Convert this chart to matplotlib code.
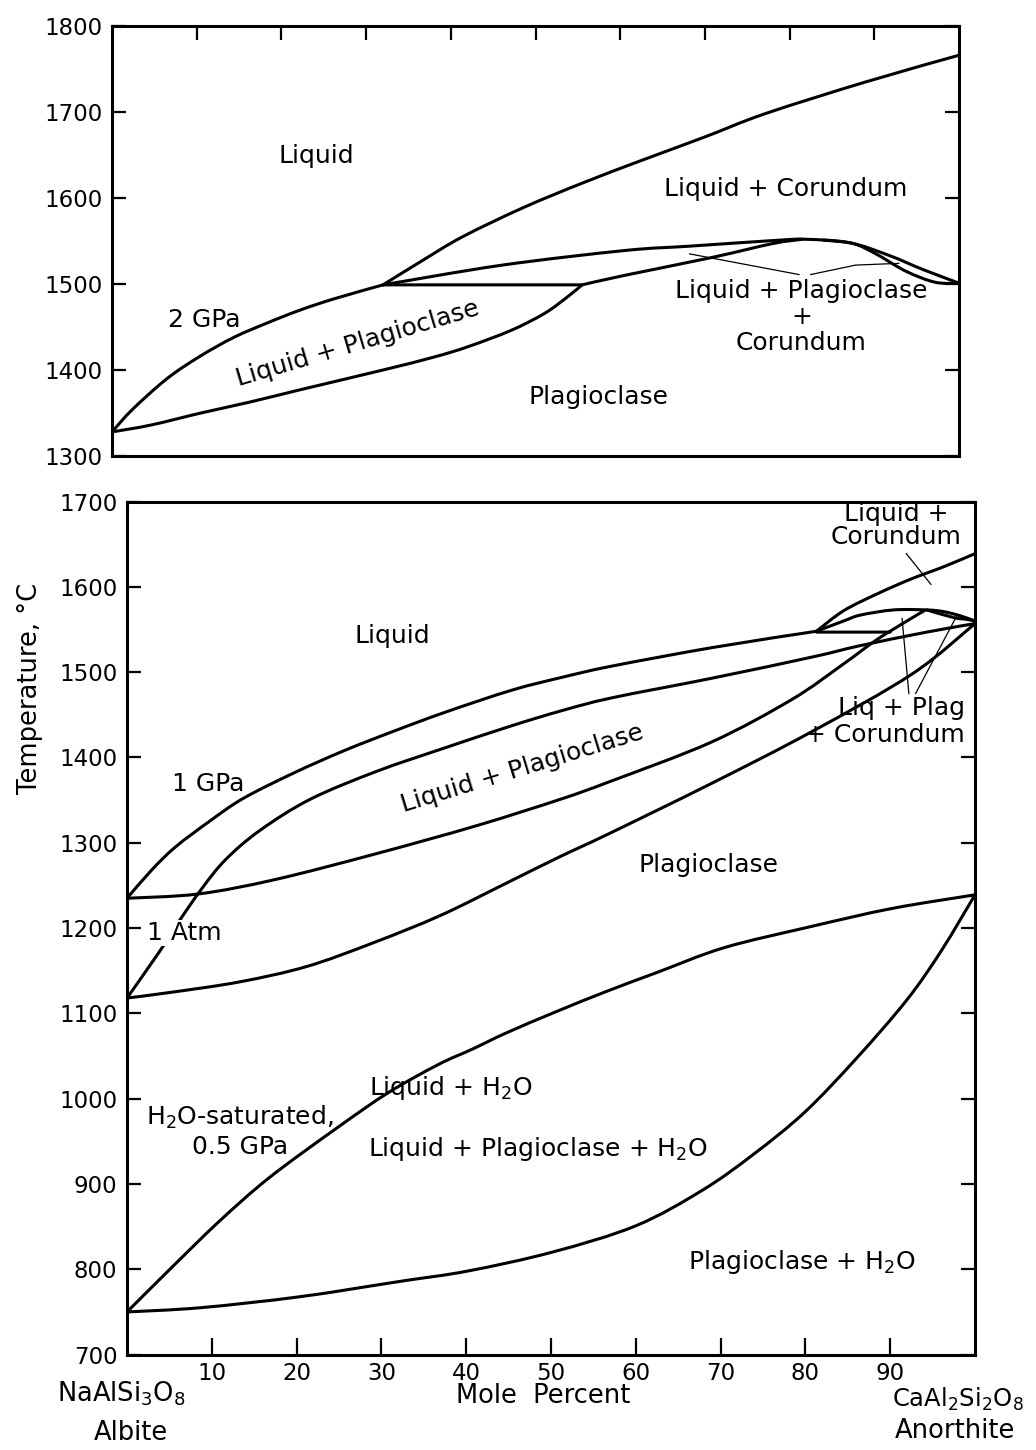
import matplotlib
matplotlib.use("Agg")
import matplotlib.pyplot as plt
from matplotlib.path import Path
from matplotlib.patches import PathPatch

plt.rcParams['font.family'] = ['DejaVu Sans']
plt.rcParams['mathtext.fontset'] = 'dejavusans'

# ---------------- 2 GPa (upper diagram) ----------------
# plagioclase liquidus, albite side up to the peritectic
liq2_x = [0, 2.4, 6.5, 10.4, 14.4, 18.4, 22.3, 26.3, 32.0]
liq2_T = [1328, 1354, 1390, 1416, 1438, 1455, 1470, 1483, 1499]
# plagioclase solidus
sol2_x = [0, 4.6, 10.5, 16.4, 22.2, 32.0, 38.0, 42.0, 47.1, 51.1, 53.9, 55.5]
sol2_T = [1328, 1336, 1350, 1363, 1377, 1400, 1415, 1427, 1446, 1466, 1486, 1499]
# peritectic isotherm
per2_x = [32.0, 55.5]
per2_T = [1499, 1499]
# corundum liquidus
cor2_x = [32.0, 36.6, 41.4, 48.6, 55.7, 62.6, 70.0, 77.1, 89.0, 100]
cor2_T = [1499, 1527, 1555, 1589, 1618, 1644, 1671, 1698, 1735, 1766]
# plagioclase liquidus beyond the peritectic
plq2_x = [32.0, 46.1, 60.6, 68.2, 78.8, 81.9, 87.1, 91.8, 95.7, 100]
plq2_T = [1499, 1522, 1539, 1544, 1551, 1552, 1548, 1533, 1517, 1501]
# lower boundary of the Liq + Plag + Cor field
pls2_x = [55.5, 60.5, 70.9, 78.0, 81.5]
pls2_T = [1499, 1510, 1531, 1547, 1552]
# small lens near anorthite
lens2_x = [84.0, 87.5, 90.2, 93.7, 97.2, 100]
lens2_T = [1551, 1547, 1535, 1515, 1502, 1501]
# label pointers
lead2a_x = [68.2, 81.1]
lead2a_T = [1535, 1511]
lead2b_x = [82.5, 87.8, 92.9]
lead2b_T = [1511, 1522, 1524]

# ---------------- 1 GPa, 1 atm, H2O-saturated 0.5 GPa (lower diagram) ----------------
liq1_x = [0, 2.9, 5.7, 9.7, 13.7, 19.7, 25.6, 31.5, 37.5, 45.4, 51.3, 57.1, 69.1, 81.3]
liq1_T = [1235, 1268, 1295, 1325, 1352, 1382, 1408, 1431, 1453, 1479, 1494, 1507, 1529, 1548]
pl1_x = [81.3, 84.5, 86.5, 90.4, 94.3, 96.3, 98.3, 100]
pl1_T = [1548, 1560, 1567, 1573, 1573, 1571, 1566, 1560]
cor1_x = [81.3, 84.5, 88.5, 92.4, 96.4, 100]
cor1_T = [1548, 1572, 1592, 1609, 1624, 1639]
per1_x = [81.3, 90.0]
per1_T = [1547, 1547]
sol1_x = [0, 8.4, 17.5, 29.3, 41.2, 51.1, 57.0, 68.9, 78.4, 84.4, 88.4, 92.3, 94.0]
sol1_T = [1235, 1240, 1257, 1287, 1320, 1351, 1372, 1418, 1468, 1509, 1538, 1562, 1572]
lens1_x = [94.3, 97.5, 99.0, 100]
lens1_T = [1573, 1564, 1562, 1560]

liqA_x = [0, 3.8, 6.0, 8.8, 11.6, 15.6, 21.6, 29.5, 37.4, 45.3, 51.3, 57.2, 69.0, 80.9, 86.4, 94.3, 100]
liqA_T = [1118, 1172, 1206, 1246, 1280, 1314, 1351, 1384, 1411, 1437, 1455, 1470, 1493, 1518, 1531, 1547, 1557]
solA_x = [0, 5.4, 13.3, 21.2, 29.1, 37.0, 45.0, 50.9, 56.9, 68.8, 80.7, 92.6, 100]
solA_T = [1118, 1125, 1137, 1155, 1183, 1215, 1254, 1283, 1311, 1369, 1430, 1498, 1557]

wl_x = [0, 4.85, 10.85, 16.85, 24.8, 30.8, 36.7, 40.7, 44.7, 50.6, 56.6, 62.5, 70.4, 80.3, 90.2, 100]
wl_T = [750, 798, 856, 908, 966, 1007, 1040, 1058, 1077, 1102, 1126, 1148, 1177, 1201, 1223, 1239]
ws_x = [0, 8.7, 20.5, 32.3, 40.2, 50.1, 60.0, 67.9, 73.9, 79.9, 85.9, 91.9, 96.0, 100]
ws_T = [750, 755, 768, 786, 798, 820, 851, 893, 935, 984, 1046, 1115, 1173, 1239]

leadc_x = [91.9, 94.8]
leadc_T = [1639, 1603]
leadp1_x = [92.2, 91.4]
leadp1_T = [1475, 1563]
leadp2_x = [93.0, 97.9]
leadp2_T = [1475, 1567]

# ticks
top_yticks = [1300, 1400, 1500, 1600, 1700, 1800]
bot_yticks = [700, 800, 900, 1000, 1100, 1200, 1300, 1400, 1500, 1600, 1700]
xticks = [10, 20, 30, 40, 50, 60, 70, 80, 90]
xtick_labels = ['10', '20', '30', '40', '50', '60', '70', '80', '90']

W, H = 1036, 1450
fig = plt.figure(figsize=(W / 100, H / 100), dpi=100)

LW = 2.2
THIN = 0.9
FS = 18
TFS = 16.5
AFS = 18.5


def curve(ax, x, y, lw=LW):
    """Smooth phase boundary through the given points (Catmull-Rom as cubic Beziers)."""
    pts = list(zip(x, y))
    verts = [pts[0]]
    codes = [Path.MOVETO]
    n = len(pts)
    for i in range(n - 1):
        p0 = pts[i - 1] if i > 0 else pts[i]
        p1 = pts[i]
        p2 = pts[i + 1]
        p3 = pts[i + 2] if i + 2 < n else pts[i + 1]
        c1 = (p1[0] + (p2[0] - p0[0]) / 6.0, p1[1] + (p2[1] - p0[1]) / 6.0)
        c2 = (p2[0] - (p3[0] - p1[0]) / 6.0, p2[1] - (p3[1] - p1[1]) / 6.0)
        verts += [c1, c2, p2]
        codes += [Path.CURVE4] * 3
    ax.add_patch(PathPatch(Path(verts, codes), fill=False, edgecolor='black', lw=lw,
                           capstyle='round', joinstyle='round', zorder=3))


def pointer(ax, x, y):
    ax.plot(x, y, color='black', lw=THIN, zorder=3)


def frame(ax):
    for s in ax.spines.values():
        s.set_linewidth(2.2)
    ax.tick_params(direction='in', length=10, width=1.6, labelsize=TFS, pad=7)


# ---------- upper panel ----------
ax1 = fig.add_axes([112 / W, 1 - 456 / H, 847 / W, 430 / H])
ax1.set_xlim(0, 100)
ax1.set_ylim(1300, 1800)
frame(ax1)
ax1.set_yticks(top_yticks)
ax1.tick_params(axis='y', left=True, right=True, labelleft=True, labelright=False)
ax1.set_xticks(xticks)
ax1.tick_params(axis='x', top=True, bottom=False, labeltop=False, labelbottom=False)

for xs, ys in [(liq2_x, liq2_T), (sol2_x, sol2_T), (per2_x, per2_T), (cor2_x, cor2_T),
               (plq2_x, plq2_T), (pls2_x, pls2_T), (lens2_x, lens2_T)]:
    curve(ax1, xs, ys)
pointer(ax1, lead2a_x, lead2a_T)
pointer(ax1, lead2b_x, lead2b_T)

ax1.text(24.1, 1649, 'Liquid', fontsize=FS, ha='center', va='center')
ax1.text(79.5, 1610, 'Liquid + Corundum', fontsize=FS, ha='center', va='center')
ax1.text(81.4, 1462, 'Liquid + Plagioclase\n+\nCorundum', fontsize=FS,
         ha='center', va='center', multialignment='center', linespacing=1.1)
ax1.text(10.9, 1458, '2 GPa', fontsize=FS, ha='center', va='center')
ax1.text(29.0, 1431, 'Liquid + Plagioclase', fontsize=FS, ha='center', va='center',
         rotation=16.5, rotation_mode='anchor')
ax1.text(57.4, 1369, 'Plagioclase', fontsize=FS, ha='center', va='center')

# ---------- lower panel ----------
ax2 = fig.add_axes([127 / W, 1 - 1354.6 / H, 848 / W, 853 / H])
ax2.set_xlim(0, 100)
ax2.set_ylim(700, 1700)
frame(ax2)
ax2.set_yticks(bot_yticks)
ax2.tick_params(axis='y', left=True, right=True, labelleft=True, labelright=False)
ax2.set_xticks(xticks)
ax2.set_xticklabels(xtick_labels)
ax2.tick_params(axis='x', top=False, bottom=True, length=12, pad=5)

for xs, ys in [(liq1_x, liq1_T), (pl1_x, pl1_T), (cor1_x, cor1_T), (per1_x, per1_T),
               (sol1_x, sol1_T), (lens1_x, lens1_T), (liqA_x, liqA_T), (solA_x, solA_T),
               (wl_x, wl_T), (ws_x, ws_T)]:
    curve(ax2, xs, ys)
for xs, ys in [(leadc_x, leadc_T), (leadp1_x, leadp1_T), (leadp2_x, leadp2_T)]:
    pointer(ax2, xs, ys)

ax2.text(90.7, 1672, 'Liquid +\nCorundum', fontsize=FS, ha='center', va='center',
         multialignment='center', linespacing=0.95)
ax2.text(31.3, 1542, 'Liquid', fontsize=FS, ha='center', va='center')
ax2.text(9.6, 1369, '1 GPa', fontsize=FS, ha='center', va='center')
ax2.text(46.6, 1387, 'Liquid + Plagioclase', fontsize=FS, ha='center', va='center',
         rotation=17, rotation_mode='anchor')
ax2.text(98.8, 1458, 'Liq + Plag', fontsize=FS, ha='right', va='center')
ax2.text(98.8, 1426, '+ Corundum', fontsize=FS, ha='right', va='center')
ax2.text(68.6, 1274, 'Plagioclase', fontsize=FS, ha='center', va='center')
ax2.text(6.7, 1194, '1 Atm', fontsize=FS, ha='center', va='center', zorder=5,
         bbox=dict(boxstyle='square,pad=0.05', fc='white', ec='none'))
ax2.text(38.2, 1013, 'Liquid + H$_2$O', fontsize=FS, ha='center', va='center')
ax2.text(13.3, 962, 'H$_2$O-saturated,\n0.5 GPa', fontsize=FS, ha='center', va='center',
         multialignment='center', linespacing=1.2)
ax2.text(48.5, 941, 'Liquid + Plagioclase + H$_2$O', fontsize=FS, ha='center', va='center')
ax2.text(79.6, 808, 'Plagioclase + H$_2$O', fontsize=FS, ha='center', va='center')

# axis titles and end-member names
fig.text(30 / W, 1 - 688 / H, 'Temperature, \u00b0C', fontsize=AFS, rotation=90,
         ha='center', va='center')
fig.text(543 / W, 1 - 1396 / H, 'Mole  Percent', fontsize=AFS, ha='center', va='center')
fig.text(121 / W, 1 - 1394 / H, 'NaAlSi$_3$O$_8$', fontsize=AFS, ha='center', va='center')
fig.text(131 / W, 1 - 1433 / H, 'Albite', fontsize=AFS, ha='center', va='center')
fig.text(958 / W, 1 - 1399 / H, 'CaAl$_2$Si$_2$O$_8$', fontsize=17.5, ha='center', va='center')
fig.text(955 / W, 1 - 1431 / H, 'Anorthite', fontsize=AFS, ha='center', va='center')

fig.savefig('out.png', dpi=100, facecolor='white')
